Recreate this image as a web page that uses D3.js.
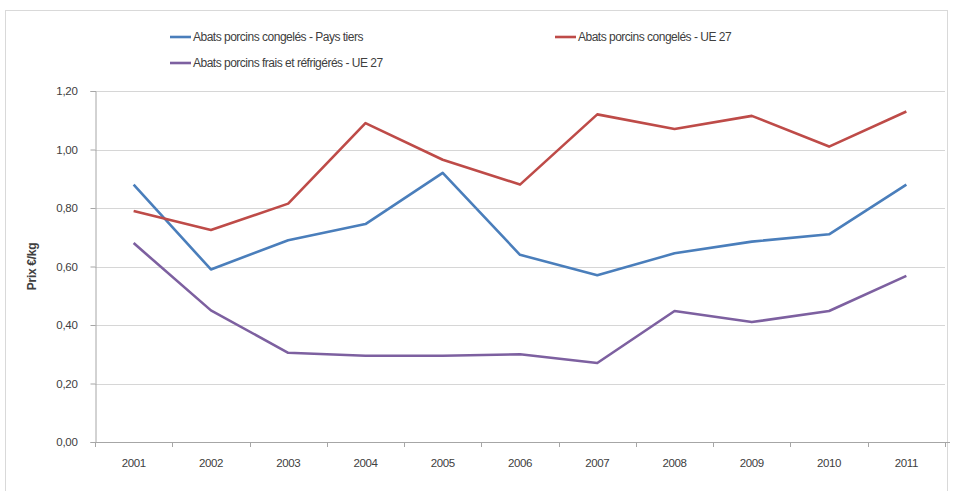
<!DOCTYPE html>
<html>
<head>
<meta charset="utf-8">
<script src="https://cdn.jsdelivr.net/npm/d3@7"></script>
<style>
  body { margin: 0; background: #fff; }
  svg { display: block; }
  text { font-family: "Liberation Sans Narrow", "Liberation Sans", Arial, sans-serif; fill: #404040; }
</style>
</head>
<body>
<svg id="chart"></svg>
<script>
// data
var years = ["2001", "2002", "2003", "2004", "2005", "2006", "2007", "2008", "2009", "2010", "2011"];
var paysTiers = [0.88, 0.59, 0.69, 0.745, 0.92, 0.64, 0.57, 0.645, 0.685, 0.71, 0.88];
var congelesUE = [0.79, 0.725, 0.815, 1.09, 0.965, 0.88, 1.12, 1.07, 1.115, 1.01, 1.13];
var fraisUE = [0.68, 0.45, 0.305, 0.295, 0.295, 0.30, 0.27, 0.448, 0.41, 0.448, 0.568];
var seriesNames = ["Abats porcins congelés - Pays tiers", "Abats porcins congelés - UE 27", "Abats porcins frais et réfrigérés - UE 27"];
var yTicks = [0, 0.2, 0.4, 0.6, 0.8, 1.0, 1.2];

var width = 955;
var height = 491;
var colors = ["#4a7ebb", "#be4b48", "#7d60a0"];
var series = [paysTiers, congelesUE, fraisUE];

var svg = d3.select("#chart")
    .attr("width", width)
    .attr("height", height);

// outer chart frame
svg.append("rect")
    .attr("x", 5.5).attr("y", 10.5)
    .attr("width", 942).attr("height", 500)
    .attr("fill", "#fff")
    .attr("stroke", "#d9d9d9");

var plot = { left: 95, right: 945, top: 91, bottom: 442 };

var x = d3.scaleBand()
    .domain(years)
    .range([plot.left, plot.right]);

var y = d3.scaleLinear()
    .domain([0, 1.2])
    .range([plot.bottom, plot.top]);

var fmt = function (d) { return d3.format(".2f")(d).replace(".", ","); };

// gridlines
svg.append("g")
    .selectAll("line")
    .data(yTicks.filter((d) => d > 0))
    .join("line")
    .attr("x1", plot.left).attr("x2", plot.right)
    .attr("y1", (d) => Math.round(y(d)) + 0.5)
    .attr("y2", (d) => Math.round(y(d)) + 0.5)
    .attr("stroke", "#d6d6d6")
    .attr("stroke-width", 1);

// y axis
var yAxis = svg.append("g")
    .attr("transform", "translate(" + (plot.left + 0.5) + ",0)")
    .call(d3.axisLeft(y).tickValues(yTicks).tickFormat(fmt).tickSize(5).tickPadding(13));
yAxis.select(".domain").attr("stroke", "#a6a6a6");
yAxis.selectAll(".tick line").attr("stroke", "#a6a6a6");
yAxis.selectAll("text").style("font-size", "11.5px").style("letter-spacing", "-0.3px").attr("fill", "#404040");

// x axis, ticks on category boundaries
var xAxis = svg.append("g")
    .attr("transform", "translate(0," + (plot.bottom + 0.5) + ")")
    .call(d3.axisBottom(x).tickSize(0).tickPadding(16));
xAxis.select(".domain").attr("stroke", "#a6a6a6").attr("d", "M" + plot.left + ",0H" + (plot.right + 5));
xAxis.selectAll("text").style("font-size", "11.5px").style("letter-spacing", "-0.4px").attr("fill", "#404040");

svg.append("g")
    .selectAll("line")
    .data(years.concat(["end"]))
    .join("line")
    .attr("x1", (d, i) => Math.round(plot.left + i * x.bandwidth()) + 0.5)
    .attr("x2", (d, i) => Math.round(plot.left + i * x.bandwidth()) + 0.5)
    .attr("y1", plot.bottom)
    .attr("y2", plot.bottom + 5)
    .attr("stroke", "#a6a6a6");

// y axis title
svg.append("text")
    .attr("transform", "translate(36," + ((plot.top + plot.bottom) / 2) + ") rotate(-90)")
    .attr("text-anchor", "middle")
    .style("font-size", "12px")
    .style("font-weight", "bold")
    .style("letter-spacing", "-0.3px")
    .text("Prix €/kg");

// lines
var line = d3.line()
    .x((d, i) => x(years[i]) + x.bandwidth() / 2)
    .y((d) => y(d));

svg.append("g")
    .selectAll("path")
    .data(series)
    .join("path")
    .attr("fill", "none")
    .attr("stroke", (d, i) => colors[i])
    .attr("stroke-width", 2.6)
    .attr("stroke-linejoin", "round")
    .attr("d", line);

// legend
var legendPos = [[170, 37], [555, 37], [170, 63]];
var legend = svg.append("g")
    .selectAll("g")
    .data(seriesNames)
    .join("g")
    .attr("transform", (d, i) => "translate(" + legendPos[i][0] + "," + legendPos[i][1] + ")");

legend.append("line")
    .attr("x1", 0).attr("x2", 21)
    .attr("stroke", (d, i) => colors[i])
    .attr("stroke-width", 2.6);

legend.append("text")
    .attr("x", 23)
    .attr("dy", "0.35em")
    .style("font-size", "12px")
    .style("letter-spacing", "-0.5px")
    .text((d) => d);
</script>
</body>
</html>
